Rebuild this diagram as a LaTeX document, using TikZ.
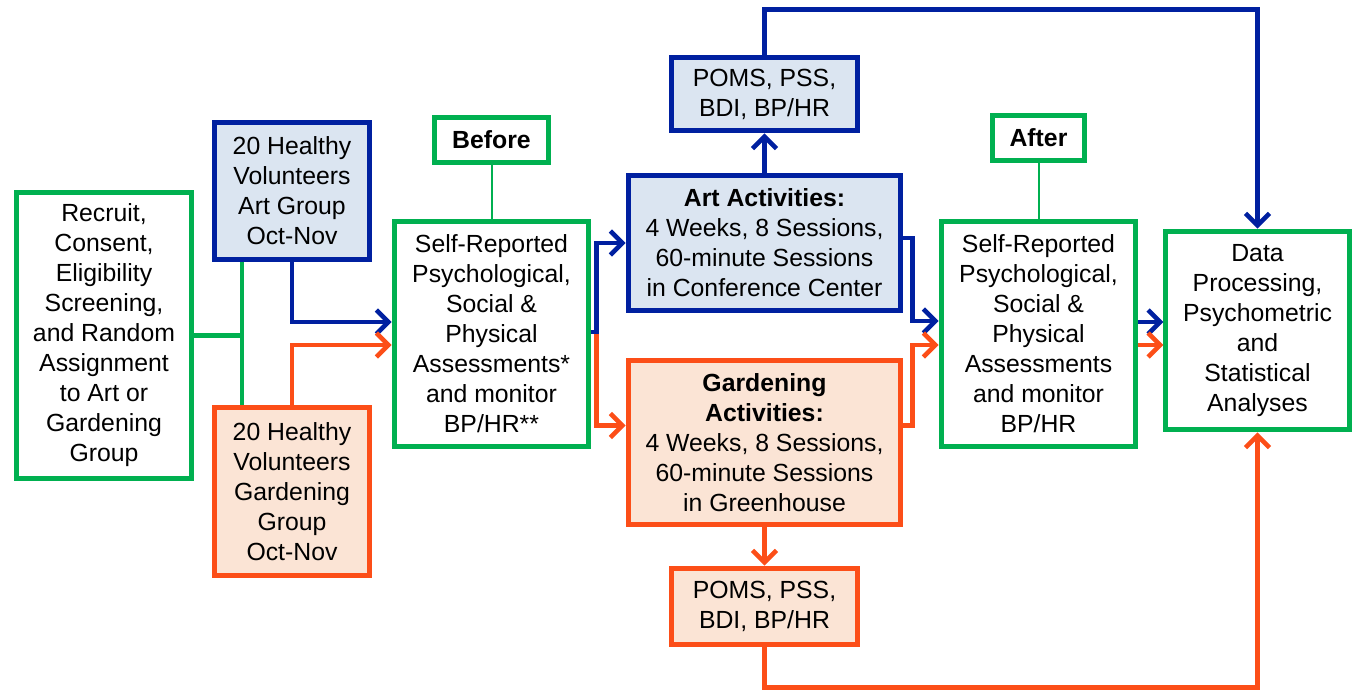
\documentclass[tikz,border=0pt]{standalone}
\usepackage{fontspec}
\setmainfont{Liberation Sans}
\usetikzlibrary{arrows.meta, positioning, calc}
\definecolor{cGrn}{RGB}{0,176,80}
\definecolor{cBlu}{RGB}{0,32,160}
\definecolor{cOra}{RGB}{252,78,24}
\definecolor{cBluF}{RGB}{219,229,241}
\definecolor{cOraF}{RGB}{251,228,213}

\begin{document}
\begin{tikzpicture}[x=0.5pt, y=-0.5pt,
            bx/.style={draw, line width=2.8pt, align=center, inner sep=0pt,
                font=\fontsize{12.4}{15}\selectfont},
            gbx/.style={bx, draw=cGrn, fill=white},
            bbx/.style={bx, draw=cBlu, fill=cBluF},
            obx/.style={bx, draw=cOra, fill=cOraF},
            gln/.style={draw=cGrn, line width=2.3pt},
            tln/.style={draw=cGrn, line width=1pt},
            bar/.style={draw=cBlu, line width=2.3pt, -{Straight Barb[length=6pt, width=12pt]}},
            oar/.style={draw=cOra, line width=2.3pt, -{Straight Barb[length=6pt, width=12pt]}}]
            \useasboundingbox (0,0) rectangle (1356,690);
            % boxes
            \node[gbx, minimum width=87.5pt, minimum height=143pt] (recruit) at (104,335.5)
                {Recruit,\\Consent,\\Eligibility\\Screening,\\and Random\\Assignment\\to Art or\\Gardening\\Group};
            \node[bbx, minimum width=77.5pt, minimum height=68.5pt] (artgrp) at (292,191)
                {20 Healthy\\Volunteers\\Art Group\\Oct-Nov};
            \node[obx, minimum width=77.5pt, minimum height=84pt] (gardgrp) at (292,491.5)
                {20 Healthy\\Volunteers\\Gardening\\Group\\Oct-Nov};
            \node[gbx, minimum width=97pt, minimum height=112.5pt] (before) at (491.5,334)
                {Self-Reported\\Psychological,\\Social \&\\Physical\\Assessments*\\and monitor\\BP/HR**};
            \node[gbx, minimum width=57pt, minimum height=22.5pt] (beforelbl) at (491.5,140)
                {\textbf{Before}};
            \node[bbx, minimum width=136pt, minimum height=67.5pt] (artact) at (764.5,243)
                {\textbf{Art Activities:}\\4 Weeks, 8 Sessions,\\60-minute Sessions\\in Conference Center};
            \node[bbx, minimum width=93pt, minimum height=36.5pt] (artpoms) at (764.5,94)
                {POMS, PSS,\\BDI, BP/HR};
            \node[obx, minimum width=136pt, minimum height=82pt] (gardact) at (764.5,442.5)
                {\textbf{Gardening}\\\textbf{Activities:}\\4 Weeks, 8 Sessions,\\60-minute Sessions\\in Greenhouse};
            \node[obx, minimum width=93pt, minimum height=38pt] (gardpoms) at (764.5,606.5)
                {POMS, PSS,\\BDI, BP/HR};
            \node[gbx, minimum width=97pt, minimum height=112.5pt] (after) at (1038.5,334)
                {Self-Reported\\Psychological,\\Social \&\\Physical\\Assessments\\and monitor\\BP/HR};
            \node[gbx, minimum width=46pt, minimum height=22.5pt] (afterlbl) at (1038.5,138)
                {\textbf{After}};
            \node[gbx, minimum width=92pt, minimum height=99pt] (data) at (1257.5,330.5)
                {Data\\Processing,\\Psychometric\\and\\Statistical\\Analyses};
            % randomisation
            \draw[gln] (recruit.east) -- ++(50,0);
            \draw[gln] ($(artgrp.south)+(-50,0)$) -- ($(gardgrp.north)+(-50,0)$);
            \draw[bar] (artgrp.south) |- ($(before.west)+(0,-12)$);
            \draw[oar] (gardgrp.north) |- ($(before.west)+(0,11)$);
            % labels
            \draw[tln] (beforelbl.south) -- (before.north);
            \draw[tln] (afterlbl.south) -- (after.north);
            % into activities
            \draw[oar] ($(before.east)+(0,-2)$) -- ++(5,0) |- ($(gardact.west)+(0,-17)$);
            \draw[bar] ($(before.east)+(0,-2)$) -- ++(5,0) |- (artact.west);
            % out of activities
            \draw[bar] ($(artact.east)+(0,-5)$) -- ++(9,0) |- ($(after.west)+(0,-13)$);
            \draw[oar] ($(gardact.east)+(0,-17)$) -- ++(9,0) |- ($(after.west)+(0,11)$);
            \draw[bar] ($(after.east)+(0,-12)$) -- ++(25,0);
            \draw[oar] ($(after.east)+(0,11)$) -- ++(25,0);
            % measures
            \draw[bar] (artact.north) -- (artpoms.south);
            \draw[oar] (gardact.south) -- (gardpoms.north);
            \draw[bar] (artpoms.north) -- ++(0,-45) -| (data.north);
            \draw[oar] (gardpoms.south) -- ++(0,40) -| (data.south);
        \end{tikzpicture}
\end{document}
